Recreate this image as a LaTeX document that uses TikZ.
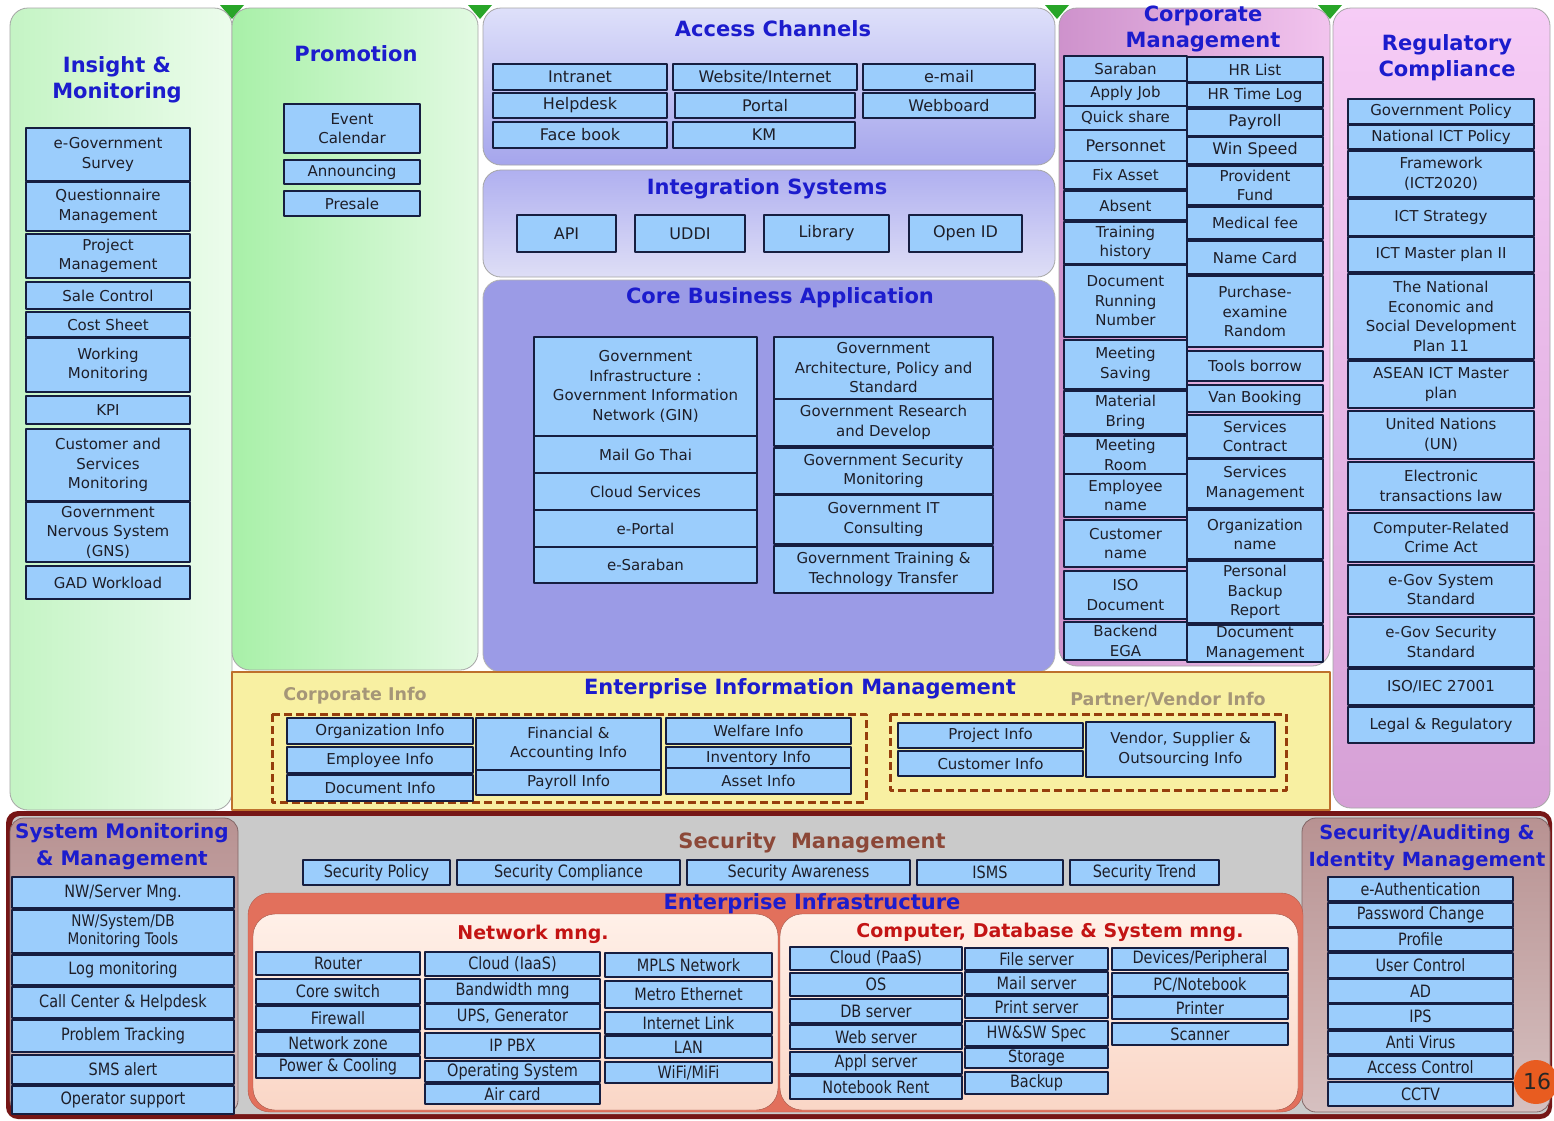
\documentclass[tikz,border=0pt]{standalone}
\usepackage{fontspec}
\setmainfont{DejaVu Sans}
\newfontfamily\condfont{DejaVu Sans}[FakeStretch=0.85]
\usetikzlibrary{positioning}

\definecolor{boxblue}{RGB}{155,205,252}
\definecolor{boxline}{RGB}{22,30,64}
\definecolor{boxtext}{RGB}{30,30,40}
\definecolor{titleblue}{RGB}{28,28,205}
\definecolor{titlered}{RGB}{195,20,20}
\definecolor{secbrown}{RGB}{140,72,56}
\definecolor{infotan}{RGB}{165,150,120}
\definecolor{wedge}{RGB}{40,165,40}
\definecolor{insightL}{RGB}{196,244,196}
\definecolor{insightR}{RGB}{236,252,236}
\definecolor{promoL}{RGB}{168,240,168}
\definecolor{promoR}{RGB}{226,250,226}
\definecolor{accessT}{RGB}{222,224,250}
\definecolor{accessB}{RGB}{165,165,236}
\definecolor{integT}{RGB}{176,176,240}
\definecolor{integB}{RGB}{222,222,246}
\definecolor{corecol}{RGB}{155,155,230}
\definecolor{corpL}{RGB}{206,146,204}
\definecolor{corpR}{RGB}{242,196,238}
\definecolor{regT}{RGB}{246,204,246}
\definecolor{regB}{RGB}{214,160,214}
\definecolor{eimfill}{RGB}{248,240,162}
\definecolor{eimline}{RGB}{190,112,44}
\definecolor{dashline}{RGB}{150,62,12}
\definecolor{maroon}{RGB}{118,22,22}
\definecolor{secgrey}{RGB}{202,202,202}
\definecolor{smmT}{RGB}{184,146,146}
\definecolor{smmB}{RGB}{214,192,192}
\definecolor{entinf}{RGB}{226,112,92}
\definecolor{nwT}{RGB}{255,240,232}
\definecolor{nwB}{RGB}{250,214,198}
\definecolor{pageorange}{RGB}{232,92,32}

\newcommand{\boxfont}{\fontsize{15}{19.5}\selectfont}
\newcommand{\ttlfont}{\fontsize{21}{26}\selectfont\bfseries}

\tikzset{
  item/.style={draw=boxline, line width=1.4pt, fill=boxblue, inner sep=0pt,
    align=center, font=\boxfont, text=boxtext},
  big/.style={font=\fontsize{16}{19}\selectfont},
  cond/.style={font=\condfont\fontsize{17}{19}\selectfont},
  ttl/.style={font=\ttlfont, text=titleblue, align=center, inner sep=0pt},
  subttl/.style={font=\fontsize{19}{22}\selectfont\bfseries, text=titlered, inner sep=0pt},
  infolbl/.style={font=\fontsize{17.5}{20}\selectfont\bfseries, text=infotan, inner sep=0pt},
  panel/.style={draw=black!35, line width=0.8pt, rounded corners=18pt},
  infogroup/.style={draw=dashline, line width=3pt, dash pattern=on 8pt off 4pt}
}

% box from its corners: [options]{x1}{y1}{x2}{y2}{name}{text}
\newcommand{\blk}[7][]{%
  \node[item,#1,minimum width={(#4-#2)*1pt},minimum height={(#5-#3)*1pt}]
    (#6) at ({(#2+#4)/2},{(#3+#5)/2}) {#7};}

\begin{document}
\begin{tikzpicture}[x=1pt, y=-1pt, line join=round]
\useasboundingbox[fill=white] (0,0) rectangle (1554,1120);

% top row panels
\foreach \wx in {232,480,1057,1330}
  \fill[wedge] (\wx-12,5) -- (\wx+12,5) -- (\wx,19) -- cycle;
\draw[panel, left color=insightL, right color=insightR] (10,8) rectangle (232,810);
\draw[panel, left color=promoL, right color=promoR] (232,8) rectangle (478,670);
\draw[panel, top color=accessT, bottom color=accessB] (483,8) rectangle (1055,165);
\draw[panel, top color=integT, bottom color=integB] (483,170) rectangle (1055,277);
\draw[panel, fill=corecol, draw=black!30] (483,280) rectangle (1055,672);
\draw[panel, left color=corpL, right color=corpR] (1059,8) rectangle (1330,666);
\draw[panel, top color=regT, bottom color=regB] (1333,8) rectangle (1550,808);

% enterprise information management
\draw[draw=eimline, line width=1.5pt, fill=eimfill] (232,672) rectangle (1330,810);

% bottom block
\fill[maroon, rounded corners=12pt] (6,811) rectangle (1552,1119);
\fill[secgrey, rounded corners=8pt] (12,816) rectangle (1548,1114);
\draw[panel, top color=smmT, bottom color=smmB, draw=smmT!70!black, rounded corners=14pt] (10,818) rectangle (238,1114);
\draw[panel, top color=smmT, bottom color=smmB, draw=smmT!70!black, rounded corners=14pt] (1302,818) rectangle (1550,1112);
\draw[fill=entinf, draw=entinf!80!black, rounded corners=22pt] (248,893) rectangle (1303,1112);
\draw[top color=nwT, bottom color=nwB, draw=entinf!70!black, rounded corners=22pt] (253,914) rectangle (778,1110);
\draw[top color=nwT, bottom color=nwB, draw=entinf!70!black, rounded corners=22pt] (780,914) rectangle (1298,1110);
\fill[pageorange] (1536,1082) circle (22);
\node[font=\fontsize{22}{24}\selectfont, text=black!85, inner sep=0pt] (pagenum) at (1537,1081) {16};

% titles
\node[ttl] (tinsight) at (117,80) {Insight \&\\Monitoring};
\node[ttl] (tpromo) at (356,54) {Promotion};
\node[ttl] (taccess) at (773,29) {Access Channels};
\node[ttl] (tinteg) at (767,189) {Integration Systems};
\node[ttl] (tcore) at (780,298) {Core Business Application};
\node[ttl] (tcorp) at (1203,29) {Corporate\\Management};
\node[ttl] (treg) at (1447,58) {Regulatory\\Compliance};
\node[ttl] (teim) at (800,689) {Enterprise Information Management};
\node[infolbl] (tcorpinfo) at (355,696) {Corporate Info};
\node[infolbl] (tpartner) at (1168,700) {Partner/Vendor Info};
\node[ttl, font=\fontsize{20}{27}\selectfont\bfseries] (tsysmon) at (122,847) {System Monitoring\\\& Management};
\node[ttl, text=secbrown] (tsecmgmt) at (812,843) {Security\ \ Management};
\node[ttl, font=\fontsize{19.5}{27}\selectfont\bfseries] (tsecaudit) at (1427,848) {Security/Auditing \&\\Identity Management};
\node[ttl] (tentinf) at (812,904) {Enterprise Infrastructure};
\node[subttl] (tnetwork) at (533,934) {Network mng.};
\node[subttl] (tcomputer) at (1050,932) {Computer, Database \& System mng.};

% Insight & Monitoring
\blk{26}{128}{190}{181}{survey}{e-Government\\Survey}
\blk{26}{182}{190}{231}{questionnaire}{Questionnaire\\Management}
\blk{26}{234}{190}{278}{projmgmt}{Project\\Management}
\blk{26}{282}{190}{309}{sale}{Sale Control}
\blk{26}{312}{190}{337}{cost}{Cost Sheet}
\blk{26}{338}{190}{392}{working}{Working\\Monitoring}
\blk{26}{396}{190}{424}{kpi}{KPI}
\blk{26}{429}{190}{501}{custmon}{Customer and\\Services\\Monitoring}
\blk{26}{502}{190}{562}{gns}{Government\\Nervous System\\(GNS)}
\blk{26}{566}{190}{599}{gad}{GAD Workload}

% Promotion
\blk{284}{104}{420}{153}{event}{Event\\Calendar}
\blk{284}{160}{420}{184}{announce}{Announcing}
\blk{284}{191}{420}{216}{presale}{Presale}

% Access Channels
\blk[big]{493}{64}{667}{90}{intranet}{Intranet}
\blk[big]{673}{64}{857}{90}{website}{Website/Internet}
\blk[big]{863}{64}{1035}{90}{email}{e-mail}
\blk[big]{493}{93}{667}{118}{helpdesk}{Helpdesk}
\blk[big]{675}{93}{855}{118}{portal}{Portal}
\blk[big]{863}{93}{1035}{118}{webboard}{Webboard}
\blk[big]{493}{122}{667}{148}{facebook}{Face book}
\blk[big]{673}{122}{855}{148}{km}{KM}

% Integration Systems
\blk[big]{517}{215}{616}{252}{api}{API}
\blk[big]{635}{215}{745}{252}{uddi}{UDDI}
\blk[big]{764}{215}{889}{252}{library}{Library}
\blk[big]{909}{215}{1022}{252}{openid}{Open ID}

% Core Business Application
\blk{534}{337}{757}{436}{gin}{Government\\Infrastructure :\\Government Information\\Network (GIN)}
\blk{534}{436}{757}{473}{mailgothai}{Mail Go Thai}
\blk{534}{473}{757}{510}{cloudsrv}{Cloud Services}
\blk{534}{510}{757}{547}{eportal}{e-Portal}
\blk{534}{547}{757}{583}{esaraban}{e-Saraban}
\blk{774}{337}{993}{399}{govarch}{Government\\Architecture, Policy and\\Standard}
\blk{774}{399}{993}{446}{govrd}{Government Research\\and Develop}
\blk{774}{448}{993}{494}{govsec}{Government Security\\Monitoring}
\blk{774}{495}{993}{544}{govit}{Government IT\\Consulting}
\blk{774}{546}{993}{593}{govtrain}{Government Training \&\\Technology Transfer}

% Corporate Management
\blk{1064}{56}{1187}{81}{saraban}{Saraban}
\blk{1064}{81}{1187}{106}{applyjob}{Apply Job}
\blk{1064}{106}{1187}{130}{quickshare}{Quick share}
\blk[big]{1064}{130}{1187}{161}{personnet}{Personnet}
\blk{1064}{161}{1187}{189}{fixasset}{Fix Asset}
\blk{1064}{191}{1187}{220}{absent}{Absent}
\blk{1064}{222}{1187}{264}{training}{Training\\history}
\blk{1064}{265}{1187}{337}{docrun}{Document\\Running\\Number}
\blk{1064}{340}{1187}{389}{meetsave}{Meeting\\Saving}
\blk{1064}{391}{1187}{434}{material}{Material\\Bring}
\blk{1064}{436}{1187}{474}{meetroom}{Meeting\\Room}
\blk{1064}{474}{1187}{517}{empname}{Employee\\name}
\blk{1064}{520}{1187}{567}{custname}{Customer\\name}
\blk{1064}{571}{1187}{619}{isodoc}{ISO\\Document}
\blk{1064}{622}{1187}{660}{backend}{Backend\\EGA}
\blk{1187}{57}{1323}{82}{hrlist}{HR List}
\blk{1187}{83}{1323}{107}{hrtime}{HR Time Log}
\blk[big]{1187}{109}{1323}{136}{payroll}{Payroll}
\blk[big]{1187}{137}{1323}{164}{winspeed}{Win Speed}
\blk{1187}{166}{1323}{205}{provident}{Provident\\Fund}
\blk{1187}{207}{1323}{239}{medical}{Medical fee}
\blk{1187}{241}{1323}{274}{namecard}{Name Card}
\blk{1187}{276}{1323}{347}{purchase}{Purchase-\\examine\\Random}
\blk{1187}{351}{1323}{381}{tools}{Tools borrow}
\blk{1187}{385}{1323}{412}{van}{Van Booking}
\blk{1187}{415}{1323}{458}{svccontract}{Services\\Contract}
\blk{1187}{459}{1323}{508}{svcmgmt}{Services\\Management}
\blk{1187}{510}{1323}{559}{orgname}{Organization\\name}
\blk{1187}{561}{1323}{623}{backup}{Personal\\Backup\\Report}
\blk{1187}{625}{1323}{662}{docmgmt}{Document\\Management}

% Regulatory Compliance
\blk{1348}{99}{1534}{124}{govpolicy}{Government Policy}
\blk{1348}{125}{1534}{149}{ictpolicy}{National ICT Policy}
\blk{1348}{151}{1534}{197}{framework}{Framework\\(ICT2020)}
\blk{1348}{199}{1534}{236}{ictstrategy}{ICT Strategy}
\blk{1348}{237}{1534}{272}{ictmaster}{ICT Master plan II}
\blk{1348}{274}{1534}{359}{nesdp}{The National\\Economic and\\Social Development\\Plan 11}
\blk{1348}{361}{1534}{408}{asean}{ASEAN ICT Master\\plan}
\blk{1348}{411}{1534}{459}{un}{United Nations\\(UN)}
\blk{1348}{462}{1534}{510}{etlaw}{Electronic\\transactions law}
\blk{1348}{513}{1534}{562}{crimeact}{Computer-Related\\Crime Act}
\blk{1348}{565}{1534}{614}{egovsys}{e-Gov System\\Standard}
\blk{1348}{617}{1534}{667}{egovsec}{e-Gov Security\\Standard}
\blk{1348}{669}{1534}{705}{iso27001}{ISO/IEC 27001}
\blk{1348}{707}{1534}{743}{legal}{Legal \& Regulatory}

% Enterprise Information Management
\draw[infogroup] (272,714) rectangle (866,802);
\draw[infogroup] (890,714) rectangle (1286,790);
\blk{287}{718}{473}{744}{orginfo}{Organization Info}
\blk{287}{747}{473}{773}{empinfo}{Employee Info}
\blk{287}{775}{473}{801}{docinfo}{Document Info}
\blk{476}{718}{661}{770}{fininfo}{Financial \&\\Accounting Info}
\blk{476}{770}{661}{795}{payinfo}{Payroll Info}
\blk{666}{718}{851}{744}{welfare}{Welfare Info}
\blk{666}{747}{851}{770}{inventory}{Inventory Info}
\blk{666}{768}{851}{794}{asset}{Asset Info}
\blk{898}{723}{1083}{748}{projinfo}{Project Info}
\blk{898}{751}{1083}{776}{custinfo}{Customer Info}
\blk{1086}{722}{1275}{777}{vendor}{Vendor, Supplier \&\\Outsourcing Info}

% System Monitoring & Management
\blk[cond]{12}{877}{234}{908}{nwserver}{NW/Server Mng.}
\blk[cond, font=\condfont\fontsize{16}{18}\selectfont]{12}{910}{234}{953}{nwtools}{NW/System/DB\\Monitoring Tools}
\blk[cond]{12}{955}{234}{985}{logmon}{Log monitoring}
\blk[cond]{12}{987}{234}{1018}{callcenter}{Call Center \& Helpdesk}
\blk[cond]{12}{1020}{234}{1052}{problem}{Problem Tracking}
\blk[cond]{12}{1055}{234}{1084}{sms}{SMS alert}
\blk[cond]{12}{1086}{234}{1114}{operator}{Operator support}

% Security Management
\blk[cond]{303}{860}{450}{885}{secpolicy}{Security Policy}
\blk[cond]{457}{860}{680}{885}{seccompl}{Security Compliance}
\blk[cond]{687}{860}{910}{885}{secaware}{Security Awareness}
\blk[cond]{917}{860}{1063}{885}{isms}{ISMS}
\blk[cond]{1070}{860}{1219}{885}{sectrend}{Security Trend}

% Network mng.
\blk[cond]{256}{952}{420}{975}{router}{Router}
\blk[cond]{256}{979}{420}{1004}{coreswitch}{Core switch}
\blk[cond]{256}{1006}{420}{1030}{firewall}{Firewall}
\blk[cond]{256}{1032}{420}{1054}{netzone}{Network zone}
\blk[cond]{256}{1056}{420}{1078}{power}{Power \& Cooling}
\blk[cond]{425}{952}{600}{976}{iaas}{Cloud (IaaS)}
\blk[cond]{425}{979}{600}{1003}{bandwidth}{Bandwidth mng}
\blk[cond]{425}{1004}{600}{1029}{ups}{UPS, Generator}
\blk[cond]{425}{1033}{600}{1058}{ippbx}{IP PBX}
\blk[cond]{425}{1061}{600}{1082}{opsys}{Operating System}
\blk[cond]{425}{1084}{600}{1104}{aircard}{Air card}
\blk[cond]{605}{953}{772}{977}{mpls}{MPLS Network}
\blk[cond]{605}{981}{772}{1008}{metro}{Metro Ethernet}
\blk[cond]{605}{1012}{772}{1034}{internet}{Internet Link}
\blk[cond]{605}{1036}{772}{1058}{lan}{LAN}
\blk[cond]{605}{1062}{772}{1083}{wifi}{WiFi/MiFi}

% Computer, Database & System mng.
\blk[cond]{790}{947}{962}{970}{paas}{Cloud (PaaS)}
\blk[cond]{790}{973}{962}{996}{os}{OS}
\blk[cond]{790}{999}{962}{1023}{dbserver}{DB server}
\blk[cond]{790}{1025}{962}{1049}{webserver}{Web server}
\blk[cond]{790}{1052}{962}{1074}{applserver}{Appl server}
\blk[cond]{790}{1076}{962}{1099}{notebook}{Notebook Rent}
\blk[cond]{965}{948}{1108}{970}{fileserver}{File server}
\blk[cond]{965}{972}{1108}{994}{mailserver}{Mail server}
\blk[cond]{965}{996}{1108}{1018}{printserver}{Print server}
\blk[cond]{965}{1021}{1108}{1046}{hwsw}{HW\&SW Spec}
\blk[cond]{965}{1048}{1108}{1068}{storage}{Storage}
\blk[cond]{965}{1072}{1108}{1094}{backupsrv}{Backup}
\blk[cond]{1112}{948}{1288}{970}{devices}{Devices/Peripheral}
\blk[cond]{1112}{973}{1288}{996}{pcnote}{PC/Notebook}
\blk[cond]{1112}{997}{1288}{1019}{printer}{Printer}
\blk[cond]{1112}{1023}{1288}{1045}{scanner}{Scanner}

% Security/Auditing & Identity Management
\blk[cond]{1328}{877}{1513}{901}{eauth}{e-Authentication}
\blk[cond]{1328}{903}{1513}{927}{password}{Password Change}
\blk[cond]{1328}{928}{1513}{951}{profile}{Profile}
\blk[cond]{1328}{953}{1513}{978}{userctl}{User Control}
\blk[cond]{1328}{979}{1513}{1003}{ad}{AD}
\blk[cond]{1328}{1004}{1513}{1029}{ips}{IPS}
\blk[cond]{1328}{1031}{1513}{1054}{antivirus}{Anti Virus}
\blk[cond]{1328}{1056}{1513}{1079}{access}{Access Control}
\blk[cond]{1328}{1082}{1513}{1106}{cctv}{CCTV}
\end{tikzpicture}
\end{document}
